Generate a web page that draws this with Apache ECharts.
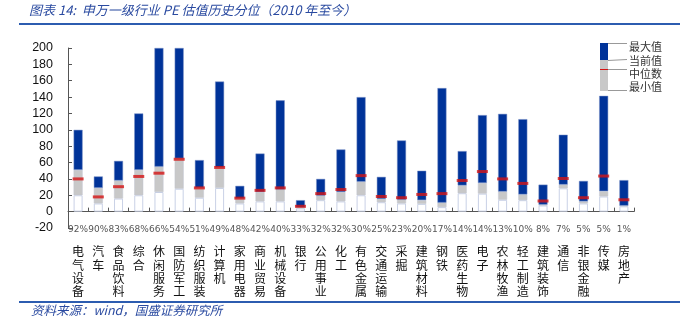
<!DOCTYPE html>
<html><head><meta charset="utf-8">
<script src="https://cdn.jsdelivr.net/npm/echarts@6/dist/echarts.min.js"></script>
<style>html,body{margin:0;padding:0;background:#fff}#c{width:680px;height:331px}</style>
</head><body><div id="c"></div>
<script>
const categories = ['电气设备','汽车','食品饮料','综合','休闲服务','国防军工','纺织服装','计算机','家用电器','商业贸易','机械设备','银行','公用事业','化工','有色金属','交通运输','采掘','建筑材料','钢铁','医药生物','电子','农林牧渔','轻工制造','建筑装饰','通信','非银金融','传媒','房地产'];
const percentiles = ['92%','90%','83%','68%','66%','54%','51%','49%','48%','42%','40%','33%','32%','32%','30%','25%','23%','20%','17%','14%','14%','13%','10%','8%','7%','5%','5%','1%'];
const minVal = [20,10,16,20,24,28,17,29,10,12.5,12.5,4,14,12.5,20,11.5,10,9.5,5.5,22.5,22,14.5,14,7.5,28.5,10,18.5,6.5];
const curVal = [51,29,38,51,55,65,29,54,16,24,27,5.3,19.5,24,36.5,15.5,14.5,14,11,32,35,24.5,21,8.5,33,12.5,25,7.3];
const medianVal = [40,18,30.5,43,47,64,29,54,16.5,26,29,6.5,22,27,44,18.5,17,21,22,38,49,40,34.5,13,40.5,17,43.5,14.5];
const maxVal = [100,43,62,120,200,200,63,159,31.5,71,136,14,40,76,140,42.5,87,50,151,74,118,119.5,113,33,94,37.5,141.5,38.5];
const yTicks = {min:-20, max:200, interval:20};

const seg1 = minVal;
const seg2 = curVal.map((v,i)=>+(v-minVal[i]).toFixed(2));
const seg3 = maxVal.map((v,i)=>+(v-curVal[i]).toFixed(2));

const chart = echarts.init(document.getElementById('c'), null, {renderer:'canvas'});
const titleBlue = '#2a4aa0';
const legendX = 600;
chart.setOption({
  animation:false,
  backgroundColor:'#fff',
  grid:{left:68, right:46, top:48, bottom:103},
  xAxis:{
    type:'category', data:categories,
    axisLine:{onZero:true, lineStyle:{color:'#555', width:1}},
    axisTick:{show:true, inside:true, length:4, lineStyle:{color:'#555'}},
    axisLabel:{
      interval:0, margin:-14,
      formatter:(v,i)=>'{p|'+percentiles[i]+'}\n'+v.split('').map(c=>'{n|'+c+'}').join('\n'),
      rich:{
        p:{fontFamily:'DejaVu Sans', fontSize:9, color:'#555', lineHeight:31},
        n:{fontFamily:'Noto Sans CJK SC', fontSize:12, color:'#111', lineHeight:13.3}
      }
    }
  },
  yAxis:{
    type:'value', min:yTicks.min, max:yTicks.max, interval:yTicks.interval,
    splitLine:{show:false},
    axisLine:{show:true, lineStyle:{color:'#555'}},
    axisTick:{show:true, inside:true, length:4, lineStyle:{color:'#555'}},
    axisLabel:{fontFamily:'Liberation Sans, Arial', fontSize:12.5, color:'#111', margin:15}
  },
  series:[
    {name:'最小值', type:'bar', stack:'a', data:seg1, barWidth:9,
     itemStyle:{color:'#ffffff', borderColor:'#c9d1e6', borderWidth:1}},
    {name:'当前值', type:'bar', stack:'a', data:seg2, barWidth:9,
     itemStyle:{color:'#c8c8c8', borderColor:'#c3c7d3', borderWidth:0.5}},
    {name:'最大值', type:'bar', stack:'a', data:seg3, barWidth:9,
     itemStyle:{color:'#003399', borderColor:'#7f95c8', borderWidth:0.5}},
    {name:'中位数', type:'scatter', data:medianVal, symbol:'rect', symbolSize:[11,3], z:5,
     itemStyle:{color:'#d41414'}}
  ],
  graphic:[
    {type:'text', left:29, top:4, style:{text:'图表 14:  申万一级行业 PE 估值历史分位（2010 年至今）', fontFamily:'Noto Sans CJK SC', fontStyle:'italic', fontSize:13, fill:titleBlue}},
    {type:'rect', shape:{x:19, y:23, width:661, height:2}, style:{fill:'#2c5cb0'}},
    {type:'rect', shape:{x:19, y:301, width:661, height:2}, style:{fill:'#2c5cb0'}},
    {type:'text', left:31, top:304, style:{text:'资料来源：wind，国盛证券研究所', fontFamily:'Noto Sans CJK SC', fontStyle:'italic', fontSize:12.5, fill:titleBlue}},
    {type:'rect', shape:{x:legendX, y:43, width:8, height:17}, style:{fill:'#003399'}},
    {type:'rect', shape:{x:legendX, y:60, width:8, height:31}, style:{fill:'#c8c8c8'}},
    {type:'line', shape:{x1:legendX, y1:69.5, x2:legendX+8, y2:69.5}, style:{stroke:'#d41414', lineWidth:1}},
    {type:'line', shape:{x1:legendX+8, y1:43.5, x2:627, y2:43.5}, style:{stroke:'#999', lineWidth:1}},
    {type:'line', shape:{x1:legendX+8, y1:60.5, x2:627, y2:59.5}, style:{stroke:'#999', lineWidth:1}},
    {type:'line', shape:{x1:legendX+8, y1:69.5, x2:627, y2:69.5}, style:{stroke:'#999', lineWidth:1}},
    {type:'line', shape:{x1:legendX+8, y1:90.5, x2:627, y2:90.5}, style:{stroke:'#999', lineWidth:1}},
    {type:'text', left:629, top:41, style:{text:'最大值', fontFamily:'Noto Sans CJK SC', fontSize:11, fill:'#333'}},
    {type:'text', left:629, top:55, style:{text:'当前值', fontFamily:'Noto Sans CJK SC', fontSize:11, fill:'#333'}},
    {type:'text', left:629, top:68, style:{text:'中位数', fontFamily:'Noto Sans CJK SC', fontSize:11, fill:'#333'}},
    {type:'text', left:629, top:81, style:{text:'最小值', fontFamily:'Noto Sans CJK SC', fontSize:11, fill:'#333'}}
  ]
});
</script></body></html>
